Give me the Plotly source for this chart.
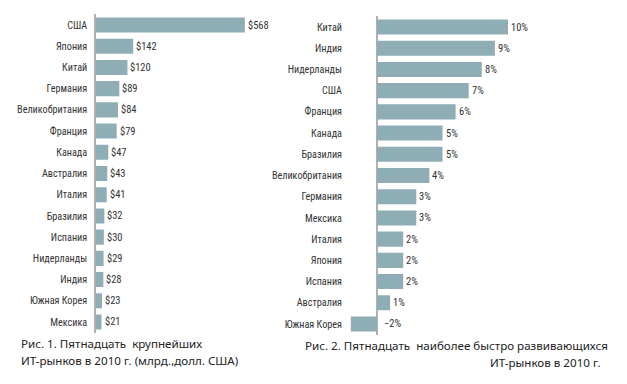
import plotly.graph_objects as go

# page offset (body margin) compensation
OX, OY = 8, 8
W, H = 627 - OX, 384 - OY


def px(p):
    return (p - OX) / W


def py(p):
    return 1 - (p - OY) / H


# Chart 1: largest IT markets 2010 (bn USD)
countries1 = ["США", "Япония", "Китай", "Германия", "Великобритания", "Франция", "Канада",
              "Австралия", "Италия", "Бразилия", "Испания", "Нидерланды", "Индия",
              "Южная Корея", "Мексика"]
values1 = [568, 142, 120, 89, 84, 79, 47, 43, 41, 32, 30, 29, 28, 23, 21]
labels1 = ["$568", "$142", "$120", "$89", "$84", "$79", "$47", "$43", "$41", "$32",
           "$30", "$29", "$28", "$23", "$21"]

# Chart 2: fastest growing IT markets 2010 (%)
countries2 = ["Китай", "Индия", "Нидерланды", "США", "Франция", "Канада", "Бразилия",
              "Великобритания", "Германия", "Мексика", "Италия", "Япония", "Испания",
              "Австралия", "Южная Корея"]
values2 = [10, 9, 8, 7, 6, 5, 5, 4, 3, 3, 2, 2, 2, 1, -2]
labels2 = ["10%", "9%", "8%", "7%", "6%", "5%", "5%", "4%", "3%", "3%", "2%", "2%",
           "2%", "1%", "\u22122%"]

BAR = "#8fadb5"
TXT = "#333333"
NARROW = "Roboto Condensed, Liberation Sans Narrow, Arial Narrow, Roboto, sans-serif"
FS = 10.2

fig = go.Figure()
fig.add_trace(go.Bar(y=countries1, x=values1, orientation="h", marker_color=BAR,
                     marker_line_width=0, xaxis="x", yaxis="y", showlegend=False,
                     hoverinfo="skip"))
fig.add_trace(go.Bar(y=countries2, x=values2, orientation="h", marker_color=BAR,
                     marker_line_width=0, xaxis="x2", yaxis="y2", showlegend=False,
                     hoverinfo="skip"))

ann = []
for c, v, t in zip(countries1, values1, labels1):
    ann.append(dict(x=v, y=c, xref="x", yref="y", text=t, showarrow=False,
                    xanchor="left", xshift=1, font=dict(family=NARROW, size=10.5, color=TXT)))
for c, v, t in zip(countries2, values2, labels2):
    ann.append(dict(x=max(v, 0), y=c, xref="x2", yref="y2", text=t, showarrow=False,
                    xanchor="left", xshift=5 if v < 0 else 1,
                    font=dict(family=NARROW, size=10.5, color=TXT)))

cap_font = dict(family="Noto Sans, Open Sans, sans-serif", size=11.6, color="#222")
ann += [
    dict(x=px(19), y=py(343), xref="paper", yref="paper", xanchor="left", yanchor="middle",
         text="Рис. 1. Пятнадцать  крупнейших", showarrow=False, font=cap_font),
    dict(x=px(19), y=py(360), xref="paper", yref="paper", xanchor="left", yanchor="middle",
         text="ИТ-рынков в 2010 г. (млрд.,долл. США)", showarrow=False, font=cap_font),
    dict(x=px(303), y=py(345), xref="paper", yref="paper", xanchor="left", yanchor="middle",
         text="Рис. 2. Пятнадцать  наиболее быстро развивающихся", showarrow=False, font=cap_font),
    dict(x=px(603), y=py(362), xref="paper", yref="paper", xanchor="right", yanchor="middle",
         text="ИТ-рынков в 2010 г.", showarrow=False, font=cap_font),
]

tickfont = dict(family=NARROW, size=FS, color=TXT)
fig.update_layout(
    width=W, height=H, margin=dict(l=0, r=0, t=0, b=0, autoexpand=False),
    paper_bgcolor="white", plot_bgcolor="white", bargap=0.29,
    annotations=ann,
    xaxis=dict(domain=[px(96), px(300)], range=[0, 204 / 0.262], visible=False,
               automargin=False),
    yaxis=dict(domain=[py(332.6), py(14.4)], autorange="reversed",
               showline=True, linecolor="#b0b0b0", linewidth=1.5, ticks="",
               showgrid=False, tickfont=tickfont, ticklabelstandoff=5, anchor="x",
               automargin=False),
    xaxis2=dict(domain=[px(347), px(620)], range=[-30 / 13.1, 243 / 13.1],
                showticklabels=False, showgrid=False, zeroline=True,
                zerolinecolor="#b0b0b0", zerolinewidth=1.5, ticks="", anchor="y2",
                automargin=False),
    yaxis2=dict(domain=[py(334.6), py(16.4)], autorange="reversed",
                showline=False, ticks="", showgrid=False, tickfont=tickfont,
                ticklabelstandoff=4, anchor="x2", automargin=False),
)

fig.write_html("out.html")
